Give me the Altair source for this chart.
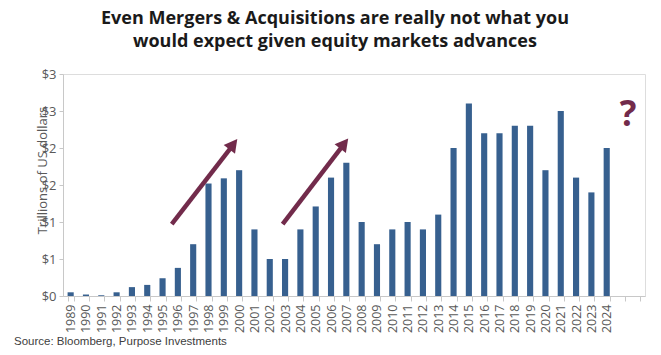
import altair as alt
import pandas as pd

years = [str(y) for y in range(1989, 2025)]
values = [0.05, 0.02, 0.01, 0.05, 0.12, 0.15, 0.24, 0.38, 0.70, 1.52, 1.59, 1.70,
          0.90, 0.50, 0.50, 0.90, 1.21, 1.60, 1.80, 1.00, 0.70, 0.90, 1.00, 0.90,
          1.10, 2.00, 2.60, 2.20, 2.20, 2.30, 2.30, 1.70, 2.50, 1.60, 1.40, 2.00]
extra_slots = ["e1", "e2"]
y_ticks = [0, 0.5, 1.0, 1.5, 2.0, 2.5, 3.0]

# annotation arrows (x in slot units, y in trillions)
arrow_x0 = [7.10, 14.34]
arrow_y0 = [0.97, 0.97]
arrow_x1 = [10.98, 18.22]
arrow_y1 = [2.01, 2.02]
tip_x = [11.38, 18.62]
tip_y = [2.12, 2.13]
tip_angle = [37.6, 37.6]
q_x = [36.9]
q_y = [2.45]

BAR = "#37608f"
ACC = "#722b4b"
GRAY = "#595959"
FONT = "Open Sans"

domain = years + extra_slots
W, H = 582, 222
n = len(domain)

bars_df = pd.DataFrame({"year": years, "value": values})
arrows_df = pd.DataFrame({"x0": arrow_x0, "y0": arrow_y0, "x1": arrow_x1, "y1": arrow_y1})
tips_df = pd.DataFrame({"x": tip_x, "y": tip_y, "a": tip_angle})
q_df = pd.DataFrame({"x": q_x, "y": q_y, "t": ["?"]})

yscale = alt.Scale(domain=[0, 3], nice=False)
xq = alt.Scale(domain=[0, n], nice=False, zero=False)
yaxis = alt.Axis(title="Trillions of US dollars", values=y_ticks, grid=False,
                 labelExpr="'$' + round(datum.value)", labelFont=FONT,
                 labelFontSize=13, labelColor=GRAY, domainColor="#c8c8c8",
                 tickColor="#c8c8c8", tickSize=4, labelPadding=3,
                 titleFont=FONT, titleFontSize=13, titleFontWeight="normal",
                 titleColor=GRAY, titleAngle=-90, titleX=-21, titleY=96,
                 titleAlign="center", titleBaseline="middle")

bars = alt.Chart(bars_df).mark_bar(color=BAR).encode(
    x=alt.X("year:N", scale=alt.Scale(domain=domain, paddingInner=0.6, paddingOuter=0.3),
            axis=alt.Axis(title=None, labelAngle=-90, labelFont=FONT, labelFontSize=12.5,
                          labelColor=GRAY, tickBand="extent", domainColor="#c8c8c8",
                          tickColor="#c8c8c8", tickSize=5, labelPadding=3,
                          labelExpr="indexof(datum.label, 'e') == 0 ? '' : datum.label")),
    y=alt.Y("value:Q", scale=yscale, axis=yaxis, title="Trillions of US dollars"),
)

shafts = alt.Chart(arrows_df).mark_rule(color=ACC, strokeWidth=4.5).encode(
    x=alt.X("x0:Q", scale=xq, axis=None), x2="x1:Q",
    y=alt.Y("y0:Q", scale=yscale, axis=yaxis, title="Trillions of US dollars"), y2="y1:Q",
)

tips = alt.Chart(tips_df).mark_point(
    shape="M0,0 L-1.1,2 L1.1,2 Z", filled=True, color=ACC, size=169, opacity=1
).encode(
    x=alt.X("x:Q", scale=xq, axis=None),
    y=alt.Y("y:Q", scale=yscale, axis=yaxis, title="Trillions of US dollars"),
    angle=alt.Angle("a:Q", scale=None),
)

qmark = alt.Chart(q_df).mark_text(
    color=ACC, font=FONT, fontWeight="bold", fontSize=35, baseline="middle", align="center"
).encode(
    x=alt.X("x:Q", scale=xq, axis=None),
    y=alt.Y("y:Q", scale=yscale, axis=yaxis, title="Trillions of US dollars"),
    text="t:N",
)

source = alt.Chart(pd.DataFrame({"t": ["Source: Bloomberg, Purpose Investments"]})).mark_text(
    font="Liberation Sans", fontSize=11.5, color="#404040", align="left", baseline="alphabetic"
).encode(x=alt.value(-49), y=alt.value(271), text="t:N")

chart = alt.layer(bars, shafts, tips, qmark, source).resolve_scale(
    x="independent"
).properties(
    width=W, height=H,
    title=alt.TitleParams(
        ["Even Mergers & Acquisitions are really not what you",
         "would expect given equity markets advances"],
        font=FONT, fontSize=18, fontWeight="bold", color="#1a1a1a",
        anchor="middle", dx=-19, offset=17, lineHeight=23,
    ),
    autosize=alt.AutoSizeParams(type="none"),
    padding={"left": 63, "top": 74, "right": 16, "bottom": 59},
).configure_view(stroke=None).configure(background="white")

chart.save("out.html", embed_options={"renderer": "svg", "actions": False})
